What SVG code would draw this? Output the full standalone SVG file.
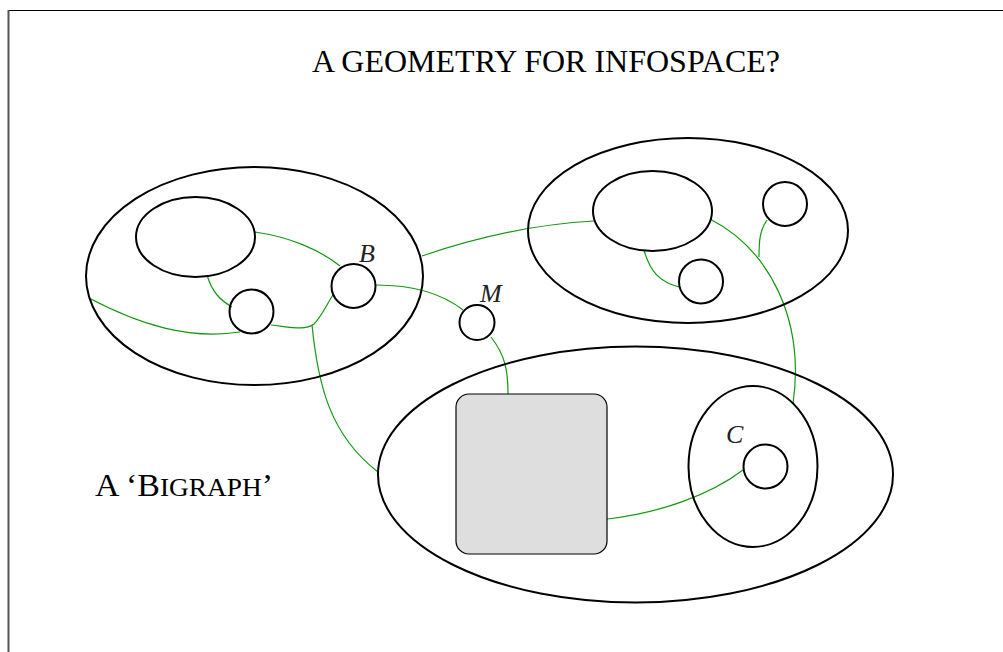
<svg xmlns="http://www.w3.org/2000/svg" width="1003" height="652" viewBox="0 0 1003 652">
<style>
.reg{fill:none;stroke:#000;stroke-width:2}
.link{fill:none;stroke:#119911;stroke-width:1.2}
.lbl{font-family:"Liberation Serif",serif;font-style:italic;font-size:26px;fill:#222}
.ttl{font-family:"Liberation Serif",serif;font-size:31px;fill:#000}
</style>
<rect width="1003" height="652" fill="#fff"/>
<line x1="8" y1="10.5" x2="1003" y2="10.5" stroke="#000" stroke-width="1.2"/>
<line x1="8.5" y1="10" x2="8.5" y2="652" stroke="#555" stroke-width="2"/>
<text class="ttl" x="312" y="72" textLength="468" lengthAdjust="spacingAndGlyphs">A GEOMETRY FOR INFOSPACE?</text>
<text class="ttl" x="95" y="496" font-size="32px" textLength="178" lengthAdjust="spacingAndGlyphs">A ‘B<tspan font-size="25px">IGRAPH</tspan>’</text>
<g id="connectors">
<path class="link" d="M255,232 C290,237 320,250 340,266"/>
<path class="link" d="M207,275 C212,292 220,300 232,307"/>
<path class="link" d="M89,298 C140,325 190,340 240,332"/>
<path class="link" d="M271,325 C290,327 305,331 314,324 C322,316 328,302 333,295"/>
<path class="link" d="M312,325 C318,385 330,435 378,472"/>
<path class="link" d="M376,285 C410,285 440,292 463,310"/>
<path class="link" d="M422,256 C480,236 540,224 594,221"/>
<path class="link" d="M491,337 C505,355 508,370 508,394"/>
<path class="link" d="M607,519 C660,513 710,495 743,470"/>
<path class="link" d="M644,250 C650,272 660,282 679,287"/>
<path class="link" d="M710,219 C770,250 805,320 793,404"/>
<path class="link" d="M767,220 C760,230 759,240 759,257"/>
</g>
<g id="regionLeft"><ellipse class="reg" cx="254.5" cy="276" rx="168.5" ry="109"/></g>
<g id="nodeLeftInner"><ellipse class="reg" cx="195.5" cy="237" rx="59.5" ry="40"/></g>
<g id="nodeLeftSmall"><circle class="reg" cx="251.5" cy="311.5" r="22"/></g>
<g id="nodeB"><circle class="reg" cx="353.5" cy="286" r="22"/><text class="lbl" x="359" y="262">B</text></g>
<g id="nodeM"><circle class="reg" cx="477" cy="322.5" r="17.5"/><text class="lbl" x="480" y="302">M</text></g>
<g id="regionRight"><ellipse class="reg" cx="688" cy="230.5" rx="160" ry="92.5"/></g>
<g id="nodeRightInner"><ellipse class="reg" cx="652.5" cy="211" rx="59.5" ry="40"/></g>
<g id="nodeRightSmallTop"><circle class="reg" cx="785" cy="204" r="22"/></g>
<g id="nodeRightSmallBottom"><circle class="reg" cx="701" cy="281.5" r="22"/></g>
<g id="regionBottom"><ellipse class="reg" cx="635.5" cy="474.5" rx="257.5" ry="128"/></g>
<g id="hole"><rect x="456" y="394" width="151" height="160" rx="13" fill="#dedede" stroke="#000" stroke-width="1.2"/></g>
<g id="regionC"><ellipse class="reg" cx="753" cy="466.5" rx="64.5" ry="80.5"/></g>
<g id="nodeC"><circle class="reg" cx="765.5" cy="466.5" r="22"/><text class="lbl" x="726" y="443">C</text></g>
</svg>
